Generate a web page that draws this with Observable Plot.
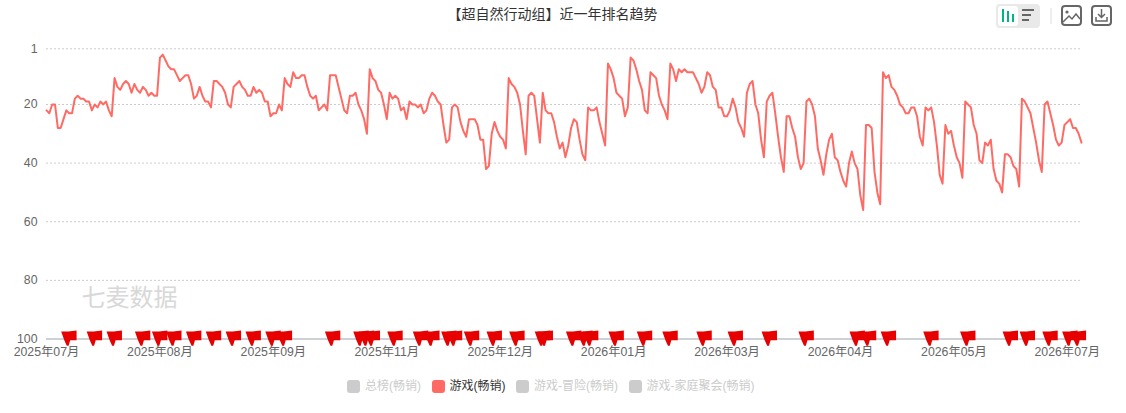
<!DOCTYPE html>
<html lang="zh">
<head>
<meta charset="utf-8">
<script src="https://cdn.jsdelivr.net/npm/d3@7"></script>
<script src="https://cdn.jsdelivr.net/npm/@observablehq/plot@0.6"></script>
<style>
  html, body { margin: 0; padding: 0; background: #fff; }
  body { width: 1126px; height: 413px; overflow: hidden; position: relative;
         font-family: "Liberation Sans", "Noto Sans CJK SC", sans-serif; }
  #head { height: 30px; position: relative; }
  #title { position: absolute; left: 0; width: 1105px; top: 4px; text-align: center;
           font-size: 14px; line-height: 20px; color: #333; }
  #icons { position: absolute; left: 0; top: 0; }
  #chart svg { display: block; }
  #legend { position: absolute; left: 347px; top: 379px; display: flex; align-items: center;
            font-size: 12px; line-height: 15px; white-space: nowrap; }
  .sw { width: 13px; height: 13px; border-radius: 3px; margin-right: 5px; }
  .lg { margin-right: 10.5px; }
</style>
</head>
<body>
<div id="head">
  <div id="title"></div>
  <svg id="icons" width="1126" height="30" fill="none">
    <rect x="996" y="4" width="44" height="24" rx="4" fill="#e9e9e9"/>
    <rect x="998" y="6" width="20" height="20" rx="3" fill="#fff"/>
    <path d="M1003 9V22M1008 11V22M1013 14V22" stroke="#00b38a" stroke-width="2"/>
    <path d="M1022 10H1034M1022 15H1031M1022 20H1029" stroke="#666" stroke-width="2"/>
    <path d="M1051 8V24" stroke="#ddd" stroke-width="1"/>
    <rect x="1062" y="6" width="19" height="19" rx="3" stroke="#666" stroke-width="2"/>
    <path d="M1063 22L1069 16L1072 19L1076 14L1080 19" stroke="#666" stroke-width="1.5"/>
    <circle cx="1067" cy="12" r="1.6" fill="#666"/>
    <rect x="1092" y="6" width="19" height="19" rx="3" stroke="#666" stroke-width="2"/>
    <path d="M1101.5 9V17M1098 14L1101.5 17.5L1105 14M1096 17V21H1107V17" stroke="#666" stroke-width="1.5"/>
  </svg>
</div>
<div id="chart"></div>
<div id="legend"></div>
<script>
const titleText = "【超自然行动组】近一年排名趋势";
const watermark = "七麦数据";
const startDate = "2025-07-10";

// daily rank of 游戏(畅销), first value = startDate
const ranks = [
  22,23,20,20,28,28,25,22,23,23,18,17,18,18,19,19,22,20,21,19,
  20,19,22,24,11,14,15,13,12,13,16,13,15,16,14,15,17,16,17,17,
  4,3,5,7,8,8,10,12,11,10,10,13,18,17,14,17,19,19,21,12,
  12,13,14,16,20,21,14,13,12,14,15,17,17,14,16,15,16,19,19,24,
  23,23,20,22,11,13,14,9,11,11,10,10,14,17,18,17,22,21,20,22,
  10,10,10,14,18,22,23,17,17,16,20,22,25,30,8,11,12,15,16,20,
  25,16,18,17,18,22,21,25,19,20,20,21,20,23,22,18,16,17,19,20,
  27,33,32,21,20,21,26,29,31,25,25,25,27,32,32,42,41,30,26,29,
  31,32,35,11,13,14,16,20,29,37,17,16,17,25,33,16,22,23,23,26,
  31,35,33,38,34,28,25,26,32,37,39,21,22,22,21,26,30,34,6,8,
  11,16,17,18,24,21,4,5,8,12,15,22,23,9,10,11,17,20,22,25,
  6,8,12,8,9,8,9,9,9,11,13,16,14,9,10,14,15,21,21,24,
  24,22,18,21,26,28,31,16,13,12,20,23,32,38,19,17,16,23,31,38,
  43,24,24,28,31,38,42,40,19,18,20,24,35,39,44,37,32,30,38,39,
  43,46,48,40,36,40,42,51,56,27,27,28,43,50,54,9,11,10,14,15,
  17,20,21,23,23,21,21,24,31,34,21,22,21,26,34,44,47,27,30,29,
  34,38,40,45,19,20,21,27,30,39,40,33,34,32,42,46,47,50,37,37,
  38,41,42,48,18,19,21,23,28,33,39,43,20,19,23,27,32,34,33,27,
  26,25,28,28,30,33
];

// days (counted from startDate) that carry a red flag
const flagDays = [
  8,17,24,34,40,45,52,59,66,73,80,84,101,111,113,115,123,132,136,142,144,150,
  158,166,175,176,186,190,192,201,211,220,232,243,255,268,286,290,297,312,325,
  340,346,354,361,364
];

const xTicks = ["2025-07-10","2025-08-19","2025-09-28","2025-11-07","2025-12-17",
                "2026-01-26","2026-03-07","2026-04-16","2026-05-26","2026-07-05"];
const yTicks = [1, 20, 40, 60, 80, 100];
const gridRanks = [1, 20, 40, 60, 80];

const legendNames = ["总榜(畅销)", "游戏(畅销)", "游戏-冒险(畅销)", "游戏-家庭聚会(畅销)"];
const legendActive = "游戏(畅销)";

const day0 = new Date(startDate + "T00:00:00Z");
const dayAt = i => d3.utcDay.offset(day0, i);
const series = ranks.map((rank, i) => ({date: dayAt(i), rank}));
const flags = flagDays.map(d => ({date: dayAt(d), rank: 100}));

const flagSymbol = {
  draw(c) {
    c.moveTo(-8, -7.5);
    c.lineTo(-1, -7.5);
    c.lineTo(7.4, -8.6);
    c.lineTo(7.4, 1.2);
    c.lineTo(1, 1.2);
    c.lineTo(-0.6, 6.8);
    c.lineTo(-2.4, 6.8);
    c.lineTo(-5, 1);
    c.closePath();
  }
};

const font = '"Liberation Sans", "Noto Sans CJK SC", sans-serif';

const chart = Plot.plot({
  width: 1126,
  height: 330,
  marginTop: 18.3,
  marginBottom: 21.5,
  marginLeft: 46,
  marginRight: 45,
  style: {fontFamily: font, fontSize: "12px", background: "#fff", overflow: "visible"},
  x: {type: "utc", domain: [dayAt(0), dayAt(ranks.length - 1)]},
  y: {domain: [1, 100], reverse: false, range: [18.3, 308.5]},
  marks: [
    Plot.ruleY(gridRanks, {stroke: "#ccc", strokeDasharray: "2,2", strokeWidth: 1}),
    Plot.ruleY([100], {stroke: "#9aa1af", strokeWidth: 1}),
    Plot.axisX({
      ticks: xTicks.map(s => new Date(s + "T00:00:00Z")),
      tickFormat: d3.utcFormat("%Y年%m月"),
      tickSize: 0, tickPadding: 8, label: null, color: "#666", fontSize: 12.3
    }),
    Plot.axisY({
      ticks: yTicks, tickFormat: d => String(d),
      tickSize: 0, tickPadding: 9, label: null, color: "#666", fontSize: 12.3
    }),
    Plot.text([watermark], {
      frameAnchor: "top-left", lineAnchor: "top", dx: 35, dy: 240.5, textAnchor: "start",
      fontSize: 24, fill: "#d8d8d8"
    }),
    Plot.line(series, {x: "date", y: "rank", stroke: "#ff6b64", strokeWidth: 2, strokeLinejoin: "round"}),
    Plot.dot(flags, {x: "date", y: "rank", symbol: flagSymbol, fill: "#e60000", stroke: "none"})
  ]
});
document.getElementById("chart").appendChild(chart);
document.getElementById("title").textContent = titleText;

const legend = d3.select("#legend");
legendNames.forEach(name => {
  const on = name === legendActive;
  legend.append("span").attr("class", "sw").style("background", on ? "#ff6b64" : "#ccc");
  legend.append("span").attr("class", "lg").style("color", on ? "#333" : "#ccc").text(name);
});
</script>
</body>
</html>
